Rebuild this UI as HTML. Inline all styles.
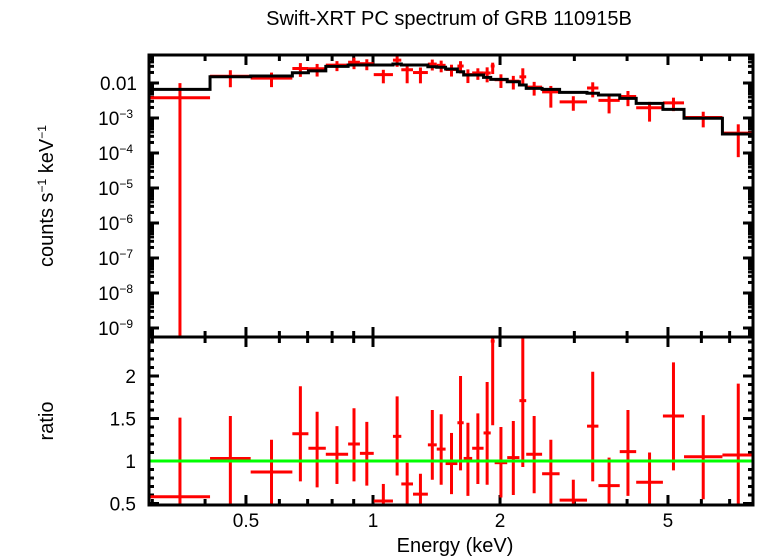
<!DOCTYPE html>
<html><head><meta charset="utf-8">
<style>
html,body{margin:0;padding:0;background:#fff;}
svg{display:block;font-family:"Liberation Sans",sans-serif;}
</style></head>
<body>
<svg id="chart" width="758" height="556" viewBox="0 0 758 556" xmlns="http://www.w3.org/2000/svg">
<rect x="0" y="0" width="758" height="556" fill="#fff"/>
<text x="449" y="25" font-size="20" text-anchor="middle">Swift-XRT PC spectrum of GRB 110915B</text>
<text transform="translate(53,196) rotate(-90)" font-size="20" text-anchor="middle">counts s<tspan dy="-7" font-size="12">−1</tspan><tspan dy="7"> keV</tspan><tspan dy="-7" font-size="12">−1</tspan></text>
<text transform="translate(53,421) rotate(-90)" font-size="20" text-anchor="middle">ratio</text>
<text x="455" y="552" font-size="20" text-anchor="middle">Energy (keV)</text>
<g id="ticks"></g>
<g id="top"></g>
<g id="bot"></g>
<g id="frames"></g>
</svg>
<script>
const binLo = [0.296,0.411,0.513,0.644,0.703,0.773,0.873,0.931,1.004,1.115,1.167,1.244,1.349,1.416,1.486,1.585,1.640,1.718,1.828,1.901,1.942,2.080,2.223,2.307,2.516,2.768,3.215,3.421,3.843,4.204,4.864,5.458,6.730];
const binHi = [0.411,0.513,0.644,0.703,0.773,0.873,0.931,1.004,1.115,1.167,1.244,1.349,1.416,1.486,1.585,1.640,1.718,1.828,1.901,1.942,2.080,2.223,2.307,2.516,2.768,3.215,3.421,3.843,4.204,4.864,5.458,6.730,8.0];
const modelVals = [0.0066,0.0151,0.0159,0.0197,0.0222,0.0299,0.0327,0.0327,0.0327,0.0349,0.0327,0.0327,0.0292,0.0281,0.0251,0.0210,0.0169,0.0169,0.0145,0.0127,0.0127,0.0109,0.0088,0.0070,0.0066,0.0054,0.0051,0.00454,0.00365,0.00262,0.00177,0.00098,0.000349];
const countVals = [0.0038,0.0156,0.0138,0.026,0.0255,0.0323,0.0392,0.0356,0.0173,0.045,0.0239,0.0199,0.0347,0.032,0.0243,0.0305,0.0174,0.0194,0.0193,0.0306,0.0124,0.0113,0.0150,0.0076,0.0056,0.0029,0.0072,0.0032,0.0041,0.00197,0.0027,0.00103,0.00037];
const ratioVals = [0.58,1.03,0.87,1.32,1.15,1.08,1.20,1.09,0.53,1.29,0.73,0.61,1.19,1.14,0.97,1.45,1.03,1.15,1.33,2.41,0.98,1.04,1.71,1.08,0.85,0.54,1.41,0.71,1.11,0.75,1.53,1.05,1.07];
const ratioHi = [1.51,1.53,1.25,1.88,1.58,1.41,1.62,1.46,0.73,1.76,0.98,0.85,1.60,1.55,1.33,2.00,1.45,1.56,1.93,3.0,1.40,1.47,3.0,1.53,1.25,0.78,2.05,1.04,1.60,1.10,2.16,1.54,1.91];
const ratioLo = [-0.5,0.50,0.48,0.76,0.69,0.73,0.76,0.71,0.30,0.83,0.30,0.30,0.78,0.72,0.61,0.89,0.59,0.73,0.72,1.42,0.57,0.60,0.93,0.62,0.30,0.30,0.76,0.30,0.59,0.30,0.89,0.55,0.22];
const yTickLabels = ["0.01","10|-3","10|-4","10|-5","10|-6","10|-7","10|-8","10|-9"];
const ratioTicks = [0.5,1,1.5,2];
const xTickLabels = [0.5,1,2,5];

const NS="http://www.w3.org/2000/svg";
const L=149,R=753,T1=55,B1=337,B2=505;
const xs=e=>373+422*Math.log10(e);
const yc=v=>83-35*(Math.log10(v)+2);
const yr=r=>461-85*(r-1);
const clip=(v,a,b)=>Math.max(a,Math.min(b,v));
function mk(tag,attrs,parent){const el=document.createElementNS(NS,tag);for(const k in attrs)el.setAttribute(k,attrs[k]);parent.appendChild(el);return el;}
const gT=document.getElementById('ticks'),gTop=document.getElementById('top'),gBot=document.getElementById('bot'),gF=document.getElementById('frames');

const minorE=[0.3,0.4,0.5,0.6,0.7,0.8,0.9,1,2,3,4,5,6,7,8];
minorE.forEach(e=>{
  const x=xs(e);if(x<L||x>R)return;
  const major=xTickLabels.includes(e);
  const len=major?10:6;
  [[T1,T1+len],[B1,B1-len],[B1,B1+len],[B2,B2-len]].forEach(p=>{
    const ln=mk('line',{x1:x,x2:x,y1:p[0],y2:p[1],stroke:'#000','stroke-width':3},gT);
    
    
  });
});
xTickLabels.forEach(e=>{
  const t=mk('text',{x:xs(e),y:527,'font-size':19,'text-anchor':'middle'},gT);
  t.textContent=String(e);
  
  
});
for(let d=-10;d<=-1;d++){
  for(let m=1;m<=9;m++){
    const v=m*Math.pow(10,d);const y=yc(v);if(y<T1||y>B1)continue;
    const len=m===1?10:5;
    [[L,L+len],[R,R-len]].forEach(p=>{
      const ln=mk('line',{x1:p[0],x2:p[1],y1:y,y2:y,stroke:'#000','stroke-width':3},gT);
      
      
    });
  }
}
yTickLabels.forEach((lab,i)=>{
  const y=yc(Math.pow(10,-2-i))+7;
  const parts=lab.split('|');
  const t=mk('text',{x:parts.length===1?137:133,y:y,'font-size':19,'text-anchor':'end'},gT);
  
  
  if(parts.length===1){t.textContent=lab;}
  else{const a=mk('tspan',{},t);a.textContent=parts[0];const b=mk('tspan',{dy:-7,'font-size':12},t);b.textContent='−'+parts[1].slice(1);}
});
for(let r=5;r<=24;r++){
  const v=r/10;const y=yr(v);if(y<B1||y>B2)continue;
  const major=ratioTicks.includes(v);const len=major?10:5;
  [[L,L+len],[R,R-len]].forEach(p=>{
    const ln=mk('line',{x1:p[0],x2:p[1],y1:y,y2:y,stroke:'#000','stroke-width':3},gT);
    
    
  });
}
ratioTicks.forEach(v=>{
  const t=mk('text',{x:136,y:yr(v)+7,'font-size':19,'text-anchor':'end'},gT);
  t.textContent=String(v);
  
  
});

binLo.forEach((lo,i)=>{
  const hi=binHi[i];const xc=xs(Math.sqrt(lo*hi));
  const x1=clip(xs(lo),L,R),x2=clip(xs(hi),L,R);
  const c=countVals[i];const y=yc(c);
  const cl=c*ratioLo[i]/ratioVals[i],ch=c*ratioHi[i]/ratioVals[i];
  const yl=cl>0?clip(yc(cl),T1,B1):B1, yh=clip(yc(ch),T1,B1);
  const h=mk('line',{x1:x1,x2:x2,y1:y,y2:y,stroke:'#ff0000','stroke-width':3},gTop);
  
  
  const v=mk('line',{x1:xc,x2:xc,y1:yh,y2:yl,stroke:'#ff0000','stroke-width':3},gTop);
  
  
  const r=ratioVals[i];const ry=clip(yr(r),B1,B2);
  const rh=mk('line',{x1:x1,x2:x2,y1:ry,y2:ry,stroke:'#ff0000','stroke-width':3},gBot);
  
  
  const rv=mk('line',{x1:xc,x2:xc,y1:clip(yr(ratioHi[i]),B1,B2),y2:clip(yr(ratioLo[i]),B1,B2),stroke:'#ff0000','stroke-width':3},gBot);
  
  
});
let d='';
binLo.forEach((lo,i)=>{
  const x1=clip(xs(lo),L,R),x2=clip(xs(binHi[i]),L,R),y=yc(modelVals[i]);
  d+=(i===0?'M':'L')+x1+','+y+'L'+x2+','+y;
});
const mp=mk('path',{d:d,fill:'none',stroke:'#000','stroke-width':3},gTop);


const g=mk('line',{x1:L,x2:R,y1:yr(1),y2:yr(1),stroke:'#00ff00','stroke-width':3},gBot);


const f1=mk('rect',{x:L,y:T1,width:R-L,height:B1-T1,fill:'none',stroke:'#000','stroke-width':3},gF);


const f2=mk('rect',{x:L,y:B1,width:R-L,height:B2-B1,fill:'none',stroke:'#000','stroke-width':3},gF);


</script>
</body></html>
